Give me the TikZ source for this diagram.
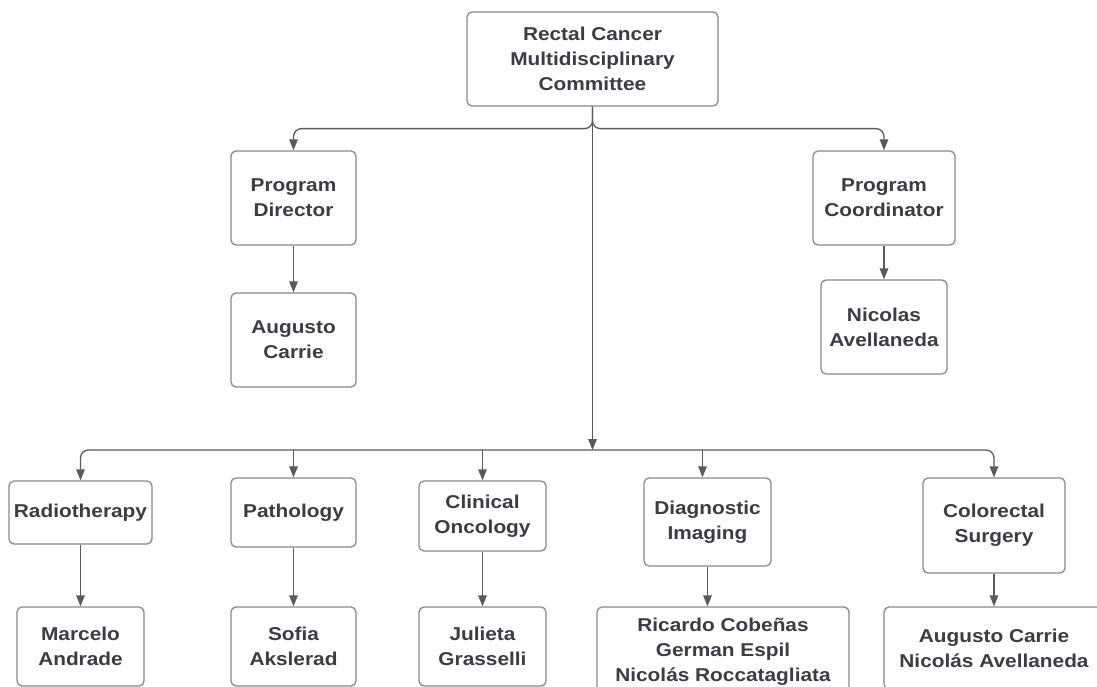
\documentclass[tikz,border=0pt]{standalone}
\usepackage{fontspec}
\setmainfont{Liberation Sans}[FakeStretch=1.12]
\usetikzlibrary{arrows.meta}
\definecolor{txt}{HTML}{3C3C44}
\definecolor{edgegray}{HTML}{8A8A8A}
\definecolor{conn}{HTML}{5A5A5A}
\begin{document}
\begin{tikzpicture}[x=1pt,y=-1pt,
  box/.style={draw=edgegray, line width=1.3pt, rounded corners=5pt, fill=white,
    align=center, inner sep=0pt, text=txt,
    font=\fontsize{18.6pt}{25pt}\selectfont\bfseries},
  arr/.style={draw=conn, line width=1.3pt, -{Triangle[length=11pt,width=8.5pt]}},
  curvedarr/.style={arr, rounded corners=8pt}]
\useasboundingbox (0,0) rectangle (1097,687);
\clip (0,0) rectangle (1097,687);
\fill[white] (0,0) rectangle (1097,687);

% top
\node[box, minimum width=251pt, minimum height=94pt] (top) at (592.5,59) {Rectal Cancer\\Multidisciplinary\\Committee};

% second level
\node[box, minimum width=125pt, minimum height=94pt] (pd) at (293.5,198) {Program\\Director};
\node[box, minimum width=125pt, minimum height=94pt] (ac) at (293.5,340) {Augusto\\Carrie};
\node[box, minimum width=142pt, minimum height=94pt] (pc) at (884,198) {Program\\Coordinator};
\node[box, minimum width=126pt, minimum height=94pt] (na) at (884,327) {Nicolas\\Avellaneda};

% departments
\node[box, minimum width=143pt, minimum height=63pt] (rt) at (80.5,512.5) {Radiotherapy};
\node[box, minimum width=125pt, minimum height=69pt] (pa) at (293.5,512.5) {Pathology};
\node[box, minimum width=127pt, minimum height=70pt] (co) at (482.5,516) {Clinical\\Oncology};
\node[box, minimum width=127pt, minimum height=88pt] (di) at (707.5,522) {Diagnostic\\Imaging};
\node[box, minimum width=142pt, minimum height=95pt] (cs) at (994,525.5) {Colorectal\\Surgery};

% people
\node[box, minimum width=127pt, minimum height=79pt] (ma) at (80.5,646.5) {Marcelo\\Andrade};
\node[box, minimum width=125pt, minimum height=79pt] (sa) at (293.5,646.5) {Sofia\\Akslerad};
\node[box, minimum width=127pt, minimum height=79pt] (jg) at (482.5,646.5) {Julieta\\Grasselli};
\node[box, minimum width=252pt, minimum height=90pt] (rc) at (723,652) {Ricardo Cobeñas\\German Espil\\Nicolás Roccatagliata};
\node[box, minimum width=220pt, minimum height=82pt] (cas) at (994,648) {Augusto Carrie\\Nicolás Avellaneda};

% connectors top
\coordinate (bus) at (592.5,450);
\draw[curvedarr] (top.south) -- ++(0,22) -| (pd.north);
\draw[curvedarr] (top.south) -- ++(0,22) -| (pc.north);
\draw[arr] (top.south) -- (bus);
\draw[arr] (pd.south) -- (ac.north);
\draw[arr] (pc.south) -- (na.north);

% bus
\draw[curvedarr] (bus) -| (rt.north);
\draw[curvedarr] (bus) -| (cs.north);
\draw[arr] (bus -| pa.north) -- (pa.north);
\draw[arr] (bus -| co.north) -- (co.north);
\draw[arr] ([xshift=-5pt]bus -| di.north) -- ([xshift=-5pt]di.north);

% department to people
\draw[arr] (rt.south) -- (ma.north);
\draw[arr] (pa.south) -- (sa.north);
\draw[arr] (co.south) -- (jg.north);
\draw[arr] (di.south) -- (di.south |- rc.north);
\draw[arr] (cs.south) -- (cas.north);
\end{tikzpicture}
\end{document}
